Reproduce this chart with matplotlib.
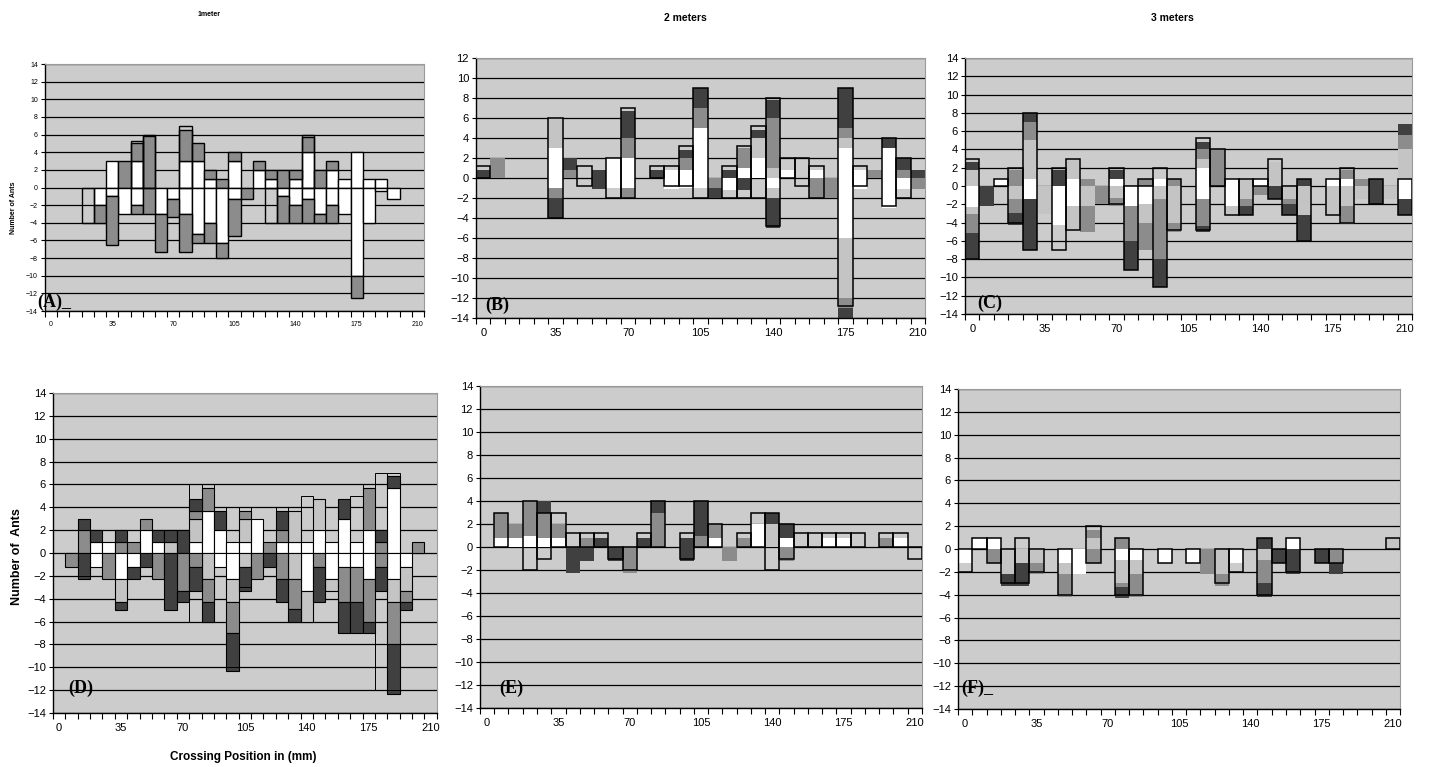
import numpy as np
import matplotlib.pyplot as plt

plt.rcParams['font.family'] = ['Liberation Sans', 'DejaVu Sans']

# crossing positions (mm), one category every 7 mm
positions = np.arange(0, 211, 7)
tick_pos = [0, 35, 70, 105, 140, 175, 210]
panel_titles = ['1meter', '2 meters', '3 meters']
panel_letters = ['(A)_', '(B)', '(C)', '(D)', '(E)', '(F)_']

# ---- panel A (1 meter, top) ----
a_up_white = [0,0,0,0,0,3,0,3,0,0,0,3,3,1,0,3,0,2,1,0,1,4,0,2,1,4,1,1,0,0,0]
a_up_light = [0]*31
a_up_mid   = [0,0,0,0,0,0,3,2,5.8,0,0,3.5,2,1,1,1,0,1,1,2,1,1.7,2,1,0,0,0,0,0,0,0]
a_up_dark  = [0]*31
a_dn_white = [0,0,0,0,2,1,3,2,0,3,1.3,3,5.3,4,6.3,1.3,0,0,0,1,2,1.3,3,2,3,10,4,0.4,1.3,0,0]
a_dn_light = [0]*31
a_dn_mid   = [0,0,0,0,2,5.5,0,1,3,4.3,2,4.3,1,2.3,1.7,4.2,1.3,0,0,3,2,2.7,1,2,0,2.5,0,0,0,0,0]
a_dn_dark  = [0]*31
a_out_top  = [0,0,0,0,0,0,0,5.3,6,0,0,7,0,0,0,0,0,0,0,0,0,6,0,0,0,0,0,0,0,0,0]
a_out_bot  = [0,0,0,-4,0,0,0,0,0,0,0,0,0,0,0,0,0,0,-4,0,0,0,0,0,0,0,0,0,0,0,0]

# ---- panel B (2 meters, top) ----
b_up_white = [0,0,0,0,0,3,0,0,0,2,2,0,0,.8,.8,5,0,0,1,2,0,.8,0,.8,0,3,.8,0,3,0,0]
b_up_light = [0,0,0,0,0,3,0,0,0,0,0,0,0,0,0,0,0,0,0,2,1,0,0,0,0,1,0,0,0,0,0]
b_up_mid   = [0,2,0,0,0,0,.8,0,0,0,2,0,0,0,1.2,2,0,0,2,0,5,0,0,0,0,1,0,.8,0,.8,0]
b_up_dark  = [.8,0,0,0,0,0,1.2,0,.8,0,2.7,0,.8,0,.8,2,0,.8,0,.8,1.8,0,0,0,0,4,0,0,1,1.2,.8]
b_dn_white = [0,0,0,0,0,1,0,0,0,1,1,0,0,1.1,1,1,0,1.2,0,0,1,0,0,0,0,6,1.1,0,3,1.1,0]
b_dn_light = [0,0,0,0,0,0,0,0,0,0,0,0,0,0,0,0,0,0,0,0,1,0,0,0,0,6,0,0,0,0,0]
b_dn_mid   = [0,0,0,0,0,1,0,0,0,0,1,0,0,0,0,0,1,0,0,0,0,0,0,2,2,1,0,0,0,0,1.1]
b_dn_dark  = [0,0,0,0,0,2,0,0,1.1,0,0,0,0,0,0,0,1,0,1.2,0,3,0,0,0,0,1,0,0,0,0,0]
b_out_top  = [1.2,0,0,0,0,6,0,1.2,0,2,7,0,1.2,1.2,3.2,9,0,1.2,3.2,5.2,8,2,2,1.2,0,9,1.2,0,4,2,0]
b_out_bot  = [0,0,0,0,0,-4,0,-.8,0,-2,-2,0,0,-.8,-.8,-2,0,-2,-2,-2,-4.8,0,-.8,-2,0,-12.8,-.8,0,-2.8,-2,0]

# ---- panel C (3 meters, top) ----
c_up_white = [0,0,.8,0,.8,0,0,.8,0,0,.8,0,0,.8,0,0,2,0,.8,0,.8,0,0,0,0,.8,.8,0,0,0,.8]
c_up_light = [1.8,0,0,0,4.2,0,0,2.2,0,0,0,0,0,0,0,0,1,0,0,.8,0,2.6,0,0,0,0,0,0,0,0,3.2]
c_up_mid   = [0,0,0,1.7,2,0,0,0,.8,0,0,0,.8,0,.8,0,1,4,0,0,0,0,0,0,0,0,1,.8,0,0,1.6]
c_up_dark  = [.8,0,0,0,1,0,1.7,0,0,0,.9,0,0,0,0,0,.8,0,0,0,0,0,0,.8,0,0,0,0,.8,0,1.2]
c_dn_white = [2.3,0,0,0,1.4,0,4.3,2.2,0,0,0,2.2,2,0,0,0,1.4,0,2.2,0,0,0,0,0,0,0,0,0,0,0,1.4]
c_dn_light = [.8,0,0,1.4,0,3.1,0,2.6,2.2,0,1.3,0,2,1.4,4,0,0,0,1,1.4,0,0,1.4,3.2,0,3.2,2.2,1.4,0,1.4,0]
c_dn_mid   = [2,0,0,1.6,0,0,0,0,2.8,2,.9,3.8,3,6.6,1,0,3,0,0,.8,1,0,.6,0,0,0,2,0,0,0,0]
c_dn_dark  = [3,2.2,0,1.3,5.6,0,0,0,0,0,0,3.2,0,3,0,0,.6,0,0,1,0,1.4,1.2,2.8,0,0,0,0,2,0,1.8]
c_out_top  = [3,0,.8,2,8,0,2,3,0,0,2,0,.8,2,.8,0,5.2,4,.8,.8,.8,3,0,.8,0,.8,2,0,.8,0,.8]
c_out_bot  = [-8,0,0,-4,-7,0,-7,-4.8,0,0,-2,-9.2,0,-11,-4.8,0,-4.8,0,-3.2,-3.2,0,-1.4,-3.2,-6,0,-3.2,-4,0,-2,0,-3.2]

# ---- panel D (bottom left) ----
d_up_white = [0,0,0,1,1,0,0,2,1,0,0,1,3.7,2,1,1,3,0,1,1,1,2,1,3,1,2,0,5.7,0,0,0]
d_up_light = [0,0,0,0,0,0,0,0,0,1,0,2,0,0,0,2,0,0,0,2.7,0,2.7,0,0,0,0,0,0,0,0,0]
d_up_mid   = [0,0,2,0,0,1,1,1,0,0,0,.7,2,0,0,.7,0,1,1,0,0,0,0,0,0,3.7,1,0,0,1,0]
d_up_dark  = [0,0,1,1,0,1,0,0,1,1,2,1,0,1.7,0,0,0,0,1.7,0,0,0,0,1.7,0,0,1,1,0,0,0]
d_dn_white = [0,0,0,1.2,0,2.3,1.2,0,0,0,0,0,0,1.2,2.3,0,0,0,0,0,3.3,0,2.3,1.2,1.2,2.3,0,2.3,1.2,0,0]
d_dn_light = [0,0,0,0,0,2,0,0,0,0,0,0,2.3,0,2,1.2,0,0,0,2.3,2.7,0,1,0,0,0,0,2,2.1,0,0]
d_dn_mid   = [0,1.2,0,0,2.3,0,0,0,2.3,0,3.3,1.2,2,0,2.7,0,2.3,0,2.3,2.6,0,1.2,0,3.1,3.1,3.7,1.2,3.7,1,0,0]
d_dn_dark  = [0,0,2.3,0,0,.7,1.1,1.2,0,5,1,2.1,1.7,0,3.3,2.1,0,1.2,2,1.1,0,3.1,0,2.7,2.7,1,2.1,4.3,.7,0,0]
d_out_top  = [0,0,3,0,0,0,0,0,0,0,0,6,6,4,4,4,0,0,4,4,5,0,0,0,5,6,7,7,0,0,0]
d_out_bot  = [0,0,-2,0,0,0,0,0,0,0,0,-6,-6,0,-10,-3,0,0,0,-6,-6,0,0,0,-7,-7,-12,-12,0,0,0]

# ---- panel E (bottom middle) ----
e_up_white = [0,.8,.8,1,.8,.8,0,0,0,0,0,0,0,0,0,0,.8,0,0,2,0,.8,0,0,.8,.8,0,0,0,.8,0]
e_up_light = [0,0,0,0,0,0,0,0,0,0,0,0,0,0,0,0,0,0,0,0,2,0,0,0,0,0,0,0,0,0,0]
e_up_mid   = [0,2.2,1.2,3,2.2,1.2,0,.8,0,0,0,0,3,0,0,1,1.2,0,.8,0,0,0,0,0,0,0,0,0,.8,0,0]
e_up_dark  = [0,0,0,0,1,0,0,0,.8,0,0,.8,1,0,.8,3,0,0,0,0,1,1.2,0,0,0,0,0,0,0,0,0]
e_dn_white = [0]*31
e_dn_light = [0]*31
e_dn_mid   = [0,0,0,0,0,0,0,0,0,0,2.3,0,0,0,0,0,0,1.2,0,0,0,1.2,0,0,0,0,0,0,0,0,0]
e_dn_dark  = [0,0,0,0,0,0,2.3,1.2,0,1.2,0,0,0,0,1.2,0,0,0,0,0,0,0,0,0,0,0,0,0,0,0,0]
e_out_top  = [0,3,0,4,3,3,1.2,1.2,1.2,0,0,1.2,4,0,1.2,4,2,0,1.2,3,3,2,1.2,1.2,1.2,1.2,1.2,0,1.2,1.2,0]
e_out_bot  = [0,0,0,-2,-1,0,0,0,0,-1,-2,0,0,0,-1,0,0,0,0,0,-2,-1,0,0,0,0,0,0,0,0,-1]

# ---- panel F (bottom right) ----
f_up_white = [0,1,1,0,0,0,0,0,0,0,0,0,0,0,0,0,0,0,0,0,0,0,0,1,0,0,0,0,0,0,0]
f_up_light = [0,0,0,0,0,0,0,0,0,1,0,0,0,0,0,0,0,0,0,0,0,0,0,0,0,0,0,0,0,0,1]
f_up_mid   = [0,0,0,0,0,0,0,0,0,.7,0,1,0,0,0,0,0,0,0,0,0,0,0,0,0,0,0,0,0,0,0]
f_up_dark  = [0,0,0,0,0,0,0,0,0,0,0,0,0,0,0,0,0,0,0,0,0,1,0,0,0,0,0,0,0,0,0]
f_dn_white = [1.2,0,0,0,0,0,0,1.2,2.2,0,0,1,1,0,1.2,0,1.2,0,0,1.2,0,0,0,0,0,0,0,0,0,0,0]
f_dn_light = [0,0,0,2.2,1.2,1.2,0,1,0,0,0,2,1.2,0,0,0,0,0,2.2,0,0,1,0,0,0,0,0,0,0,0,0]
f_dn_mid   = [0,0,1.2,0,0,1,0,2,0,1.2,0,.3,2,0,0,0,0,2.2,1,0,0,2,0,0,0,0,1.2,0,0,0,0]
f_dn_dark  = [0,0,0,1,2,0,0,0,0,0,0,1,0,0,0,0,0,0,0,0,0,1.2,1.2,2.2,0,1.2,1,0,0,0,0]
f_out_top  = [0,1,1,0,1,0,0,0,0,2,0,1,0,0,0,0,0,0,0,0,0,1,0,1,0,0,0,0,0,0,1]
f_out_bot  = [-2,0,-1.2,-3,-3,-2,0,-4,0,-1.2,0,-4,-4,0,-1.2,0,-1.2,0,-3,-2,0,-4,-1.2,-2,0,-1.2,-1.2,0,0,0,0]

fills = ['white', '#c4c4c4', '#8c8c8c', '#404040']


def draw_panel(ax, ups, downs, out_top, out_bot, edge_lw, out_lw, ymax, fs):
    ax.set_facecolor('#cccccc')
    top = np.zeros(len(positions))
    for vals, col in zip(ups, fills):
        vals = np.asarray(vals, float)
        keep = vals > 0
        ax.bar(positions[keep], vals[keep], width=7, bottom=top[keep], color=col,
               edgecolor='black', linewidth=edge_lw, zorder=2)
        top += vals
    low = np.zeros(len(positions))
    for vals, col in zip(downs, fills):
        vals = np.asarray(vals, float)
        keep = vals > 0
        ax.bar(positions[keep], -vals[keep], width=7, bottom=low[keep], color=col,
               edgecolor='black', linewidth=edge_lw, zorder=2)
        low -= vals
    ot = np.asarray(out_top, float)
    ob = np.asarray(out_bot, float)
    keep = (ot - ob) > 0
    ax.bar(positions[keep], (ot - ob)[keep], width=7, bottom=ob[keep], fill=False,
           edgecolor='black', linewidth=out_lw, zorder=3)

    ax.set_xlim(-3.5, 213.5)
    ax.set_ylim(-14, ymax)
    ax.set_yticks(np.arange(-14, ymax + 1, 2))
    ax.yaxis.grid(True, color='black', linewidth=0.9)
    ax.set_axisbelow(True)
    ax.set_xticks(tick_pos)
    ax.set_xticks(np.arange(-3.5, 214, 7), minor=True)
    ax.tick_params(axis='x', which='major', length=0, pad=7, labelsize=fs)
    ax.tick_params(axis='x', which='minor', length=4, width=0.8, direction='out')
    ax.tick_params(axis='y', length=3, width=0.8, labelsize=fs, pad=2)
    for s in ['top', 'right']:
        ax.spines[s].set_color('#9a9a9a')
    for s in ['left', 'bottom']:
        ax.spines[s].set_linewidth(1.0)


fig = plt.figure(figsize=(14.31, 7.67), dpi=100)

rects = [
    [0.0314, 0.5945, 0.2649, 0.322],
    [0.3326, 0.5854, 0.3138, 0.339],
    [0.6744, 0.5906, 0.3124, 0.3338],
    [0.0370, 0.0704, 0.2683, 0.4172],
    [0.3354, 0.0769, 0.3089, 0.4198],
    [0.6695, 0.0756, 0.3089, 0.4172],
]
panels = [
    ([a_up_white, a_up_light, a_up_mid, a_up_dark], [a_dn_white, a_dn_light, a_dn_mid, a_dn_dark], a_out_top, a_out_bot, 1.0, 1.0, 14, 5),
    ([b_up_white, b_up_light, b_up_mid, b_up_dark], [b_dn_white, b_dn_light, b_dn_mid, b_dn_dark], b_out_top, b_out_bot, 0, 1.1, 12, 8),
    ([c_up_white, c_up_light, c_up_mid, c_up_dark], [c_dn_white, c_dn_light, c_dn_mid, c_dn_dark], c_out_top, c_out_bot, 0, 1.1, 14, 8),
    ([d_up_white, d_up_light, d_up_mid, d_up_dark], [d_dn_white, d_dn_light, d_dn_mid, d_dn_dark], d_out_top, d_out_bot, 0.8, 0.7, 14, 8),
    ([e_up_white, e_up_light, e_up_mid, e_up_dark], [e_dn_white, e_dn_light, e_dn_mid, e_dn_dark], e_out_top, e_out_bot, 0, 1.1, 14, 8),
    ([f_up_white, f_up_light, f_up_mid, f_up_dark], [f_dn_white, f_dn_light, f_dn_mid, f_dn_dark], f_out_top, f_out_bot, 0, 1.1, 14, 8),
]
letter_pos = [(-0.02, 0.035), (0.02, 0.05), (0.027, 0.043), (0.04, 0.078), (0.043, 0.062), (0.007, 0.066)]

for rect, p, letter, lp in zip(rects, panels, panel_letters, letter_pos):
    ax = fig.add_axes(rect)
    draw_panel(ax, *p)
    ax.text(lp[0], lp[1], letter, transform=ax.transAxes, ha='left', va='center',
            fontsize=13, fontweight='bold', family=['Liberation Serif', 'DejaVu Serif'], zorder=5)

fig.text(209 / 1431, 1 - 15 / 767, panel_titles[0], ha='center', va='center', fontsize=5, fontweight='bold')
fig.text(685 / 1431, 1 - 18 / 767, panel_titles[1], ha='center', va='center', fontsize=7.5, fontweight='bold')
fig.text(1172 / 1431, 1 - 18 / 767, panel_titles[2], ha='center', va='center', fontsize=7.5, fontweight='bold')

fig.text(14 / 1431, 1 - 208 / 767, 'Number of Ants', rotation=90, ha='center', va='center', fontsize=5, fontweight='bold')
fig.text(17 / 1431, 1 - 557 / 767, 'Number of  Ants', rotation=90, ha='center', va='center', fontsize=9, fontweight='bold')
fig.text(243 / 1431, 1 - 757 / 767, 'Crossing Position in (mm)', ha='center', va='center', fontsize=8.5, fontweight='bold')

fig.savefig('out.png', dpi=100)
